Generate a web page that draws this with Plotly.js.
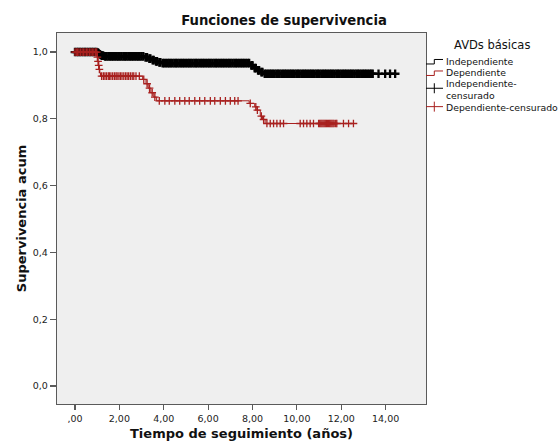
<!DOCTYPE html>
<html>
<head>
<meta charset="utf-8">
<script src="https://cdn.plot.ly/plotly-3.0.1.min.js"></script>
<style>
html,body{margin:0;padding:0;background:#fff;}
#chart{width:559px;height:443px;}
</style>
</head>
<body>
<div id="chart"></div>
<script>
// ---- DATA ----
const seriesNames = ["Independiente", "Dependiente", "Independiente-censurado", "Dependiente-censurado"];
const legendTitle = "AVDs básicas";

// Kaplan-Meier step points: time (años) and cumulative survival
const indepTimes = [0, 1.0, 1.05, 1.1, 1.15, 1.2, 1.3, 3.15, 3.3, 3.45, 3.6, 3.75, 3.9, 7.9, 8.05, 8.2, 8.35, 8.5, 14.45];
const indepSurv  = [1.0, 0.998, 0.995, 0.993, 0.991, 0.989, 0.987, 0.984, 0.980, 0.976, 0.972, 0.969, 0.967, 0.960, 0.952, 0.945, 0.940, 0.935, 0.935];

const depTimes = [0, 1.0, 1.03, 1.06, 1.09, 1.12, 1.15, 3.05, 3.2, 3.3, 3.42, 3.55, 3.68, 7.85, 8.1, 8.2, 8.35, 8.45, 8.57, 12.55];
const depSurv  = [1.0, 0.985, 0.972, 0.960, 0.948, 0.938, 0.928, 0.918, 0.905, 0.892, 0.878, 0.865, 0.854, 0.846, 0.836, 0.826, 0.808, 0.798, 0.786, 0.786];

// censored observation times
const indepCensTimes = [0, 0.08, 0.15, 0.22, 0.3, 0.38, 0.45, 0.52, 0.6, 0.68, 0.75, 0.82, 0.9, 0.97, 1.04, 1.08, 1.12, 1.17, 1.22, 1.27,
  1.35, 1.42, 1.5, 1.58, 1.65, 1.72, 1.8, 1.88, 1.95, 2.02, 2.1, 2.18, 2.25, 2.32, 2.4, 2.48, 2.55, 2.62, 2.7, 2.78,
  2.85, 2.92, 3.0, 3.08, 3.18, 3.25, 3.35, 3.4, 3.5, 3.55, 3.65, 3.7, 3.8, 3.85, 3.95, 4.02, 4.1, 4.18, 4.25, 4.32,
  4.4, 4.48, 4.55, 4.62, 4.7, 4.78, 4.85, 4.92, 5.0, 5.08, 5.15, 5.22, 5.3, 5.38, 5.45, 5.52, 5.6, 5.68, 5.75, 5.82,
  5.9, 5.98, 6.05, 6.12, 6.2, 6.28, 6.35, 6.42, 6.5, 6.58, 6.65, 6.72, 6.8, 6.88, 6.95, 7.02, 7.1, 7.18, 7.25, 7.32,
  7.4, 7.48, 7.55, 7.62, 7.7, 7.78, 7.85, 7.95, 8.0, 8.1, 8.15, 8.25, 8.3, 8.4, 8.45, 8.55, 8.62, 8.7, 8.78, 8.85,
  8.92, 9.0, 9.08, 9.15, 9.22, 9.3, 9.38, 9.45, 9.52, 9.6, 9.68, 9.75, 9.82, 9.9, 9.98, 10.05, 10.12, 10.2, 10.28, 10.35,
  10.42, 10.5, 10.58, 10.65, 10.72, 10.8, 10.88, 10.95, 11.02, 11.1, 11.18, 11.25, 11.32, 11.4, 11.48, 11.55, 11.62, 11.7, 11.78, 11.85,
  11.92, 12.0, 12.08, 12.15, 12.22, 12.3, 12.38, 12.45, 12.52, 12.6, 12.68, 12.75, 12.82, 12.9, 12.98, 13.05, 13.12, 13.2, 13.28, 13.35,
  13.42, 13.68, 13.98, 14.2, 14.43];

const depCensTimes = [0, 0.06, 0.12, 0.18, 0.25, 0.32, 0.38, 0.45, 0.52, 0.58, 0.65, 0.72, 0.78, 0.85, 0.92, 0.98,
  1.01, 1.04, 1.07, 1.10,
  1.2, 1.28, 1.35, 1.42, 1.5, 1.55, 1.62, 1.7, 1.78, 1.85, 1.9, 1.98, 2.05, 2.12, 2.2, 2.28, 2.35, 2.42, 2.5, 2.58, 2.65, 2.75, 2.9,
  3.1, 3.25, 3.36, 3.48, 3.6,
  3.8, 4.05, 4.25, 4.5, 4.72, 4.95, 5.15, 5.4, 5.62, 5.85, 6.1, 6.3, 6.55, 6.78, 7.0, 7.2, 7.35,
  7.9, 8.15, 8.22, 8.4, 8.5,
  8.65, 8.8, 8.95, 9.1, 9.25, 9.4, 10.15, 10.3, 10.45, 10.6, 10.75, 10.98, 11.03, 11.08, 11.13, 11.18, 11.23, 11.28,
  11.33, 11.38, 11.43, 11.48, 11.53, 11.58, 11.63, 11.68, 11.75, 11.8, 12.1, 12.33, 12.55];

const xTickVals = [0, 2, 4, 6, 8, 10, 12, 14];
const xTickText = [",00", "2,00", "4,00", "6,00", "8,00", "10,00", "12,00", "14,00"];
const yTickVals = [0, 0.2, 0.4, 0.6, 0.8, 1.0];
const yTickText = ["0,0", "0,2", "0,4", "0,6", "0,8", "1,0"];

// ---- helpers ----
function survAt(times, surv, t) {
  let v = surv[0];
  for (let i = 0; i < times.length; i++) { if (times[i] <= t + 1e-9) v = surv[i]; }
  return v;
}

const BLACK = "#000000";
const RED = "#a8201f";
const FONT = "DejaVu Sans, Verdana, sans-serif";

const traces = [
  { x: indepTimes, y: indepSurv, mode: "lines", line: {shape: "hv", color: BLACK, width: 1.2}, name: seriesNames[0], hoverinfo: "skip" },
  { x: indepCensTimes, y: indepCensTimes.map(t => survAt(indepTimes, indepSurv, t)), mode: "markers",
    marker: {symbol: "cross-thin-open", size: 6.2, color: BLACK, line: {color: BLACK, width: 2.3}}, name: seriesNames[2] },
  { x: depTimes, y: depSurv, mode: "lines", line: {shape: "hv", color: RED, width: 1}, name: seriesNames[1] },
  { x: depCensTimes, y: depCensTimes.map(t => survAt(depTimes, depSurv, t)), mode: "markers",
    marker: {symbol: "cross-thin-open", size: 5.5, color: RED, line: {color: RED, width: 1.3}}, name: seriesNames[3] }
];

// plot area in pixels
const L = 57, R = 425.7, T = 33, B = 404.3;
const px = v => (v - L) / (R - L);
const py = v => (B - v) / (B - T);

const shapes = [];
const annotations = [];
// custom legend (SPSS style)
function stepSym(yb, color) {
  shapes.push({type: "path", xref: "paper", yref: "paper",
    path: `M ${px(425.7)},${py(yb)} L ${px(434)},${py(yb)} L ${px(434)},${py(yb-4.5)} L ${px(442.7)},${py(yb-4.5)}`,
    line: {color: color, width: 1}});
}
function crossSym(yc, color) {
  shapes.push({type: "line", xref: "paper", yref: "paper", x0: px(425.7), x1: px(442.7), y0: py(yc), y1: py(yc), line: {color: color, width: 1}});
  shapes.push({type: "line", xref: "paper", yref: "paper", x0: px(434), x1: px(434), y0: py(yc-5), y1: py(yc+5), line: {color: color, width: 1}});
}
function legText(txt, yc) {
  annotations.push({xref: "paper", yref: "paper", x: px(445), y: py(yc), xanchor: "left", yanchor: "middle",
    text: txt, showarrow: false, borderpad: 0, align: "left", font: {family: FONT, size: 9.3, color: "#111"}});
}
annotations.push({xref: "paper", yref: "paper", x: px(492), y: py(45), xanchor: "center", yanchor: "middle",
  text: legendTitle, showarrow: false, font: {family: FONT, size: 11.5, color: "#111"}});
stepSym(64, BLACK);  legText(seriesNames[0], 61.5);
stepSym(75.5, RED);  legText(seriesNames[1], 73);
crossSym(88.3, BLACK); legText("Independiente-<br>censurado", 90);
crossSym(106.7, RED); legText(seriesNames[3], 107.5);

const layout = {
  width: 559, height: 443,
  margin: {l: L, r: 559 - R, t: T, b: 443 - B, pad: 0},
  paper_bgcolor: "#ffffff",
  plot_bgcolor: "#efefef",
  showlegend: false,
  font: {family: FONT, size: 9.5, color: "#222"},
  title: {text: "Funciones de supervivencia", x: 284/559, xref: "container", xanchor: "center",
    y: 1 - 20/443, yref: "container", yanchor: "middle",
    font: {family: FONT, size: 13.2, weight: "bold", color: "#111"}},
  xaxis: {
    range: [-0.81, 15.82], tickvals: xTickVals, ticktext: xTickText,
    showgrid: false, zeroline: false, showline: true, mirror: true, linecolor: "#5a5a5a", linewidth: 1.2,
    ticks: "outside", ticklen: 5, tickcolor: "#5a5a5a", tickwidth: 1.2,
    tickfont: {family: FONT, size: 9.5, color: "#222"},
    title: {text: "Tiempo de seguimiento (años)", standoff: 6, font: {family: FONT, size: 13, weight: "bold", color: "#111"}}
  },
  yaxis: {
    range: [-0.054, 1.057], tickvals: yTickVals, ticktext: yTickText,
    showgrid: false, zeroline: false, showline: true, mirror: true, linecolor: "#5a5a5a", linewidth: 1.2,
    ticks: "outside", ticklen: 6, tickcolor: "#5a5a5a", tickwidth: 1.2,
    tickfont: {family: FONT, size: 9.5, color: "#222"},
    title: {text: "Supervivencia acum", standoff: 3, font: {family: FONT, size: 13, weight: "bold", color: "#111"}}
  },
  shapes: shapes,
  annotations: annotations
};

Plotly.newPlot("chart", traces, layout, {displayModeBar: false, staticPlot: true});
</script>
</body>
</html>
